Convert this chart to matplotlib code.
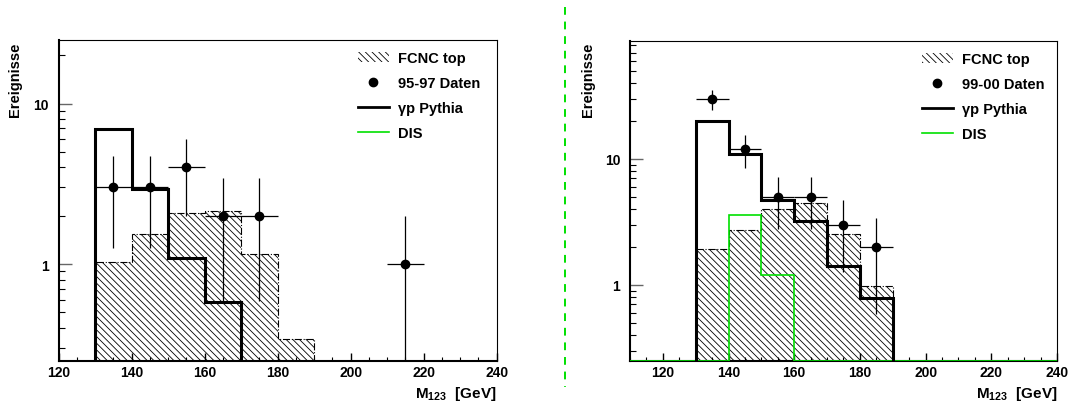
import numpy as np
import matplotlib
matplotlib.use('Agg')
import matplotlib.pyplot as plt
from matplotlib.lines import Line2D
from matplotlib.patches import Patch
from matplotlib.ticker import MultipleLocator, LogLocator, NullFormatter, FixedFormatter, FixedLocator

plt.rcParams['font.family'] = ['Liberation Sans', 'DejaVu Sans']
plt.rcParams['font.weight'] = 'bold'
plt.rcParams['mathtext.fontset'] = 'custom'
plt.rcParams['mathtext.rm'] = 'Liberation Sans:bold'
plt.rcParams['mathtext.bf'] = 'Liberation Sans:bold'
plt.rcParams['hatch.linewidth'] = 0.6

# bin edges (GeV) for the M123 histograms
edges = np.arange(110, 250, 10)
centres = edges[:-1] + 5

# 95-97 sample
fcnc_9597 = np.array([0, 0, 1.03, 1.54, 2.07, 2.13, 1.16, 0.34, 0, 0, 0, 0, 0])
pythia_9597 = np.array([0, 0, 6.92, 2.94, 1.09, 0.58, 0, 0, 0, 0, 0, 0, 0])
data_9597 = np.array([0, 0, 3, 3, 4, 2, 2, 0, 0, 0, 1, 0, 0])

# 99-00 sample
fcnc_9900 = np.array([0, 0, 1.93, 2.73, 3.99, 4.48, 2.54, 0.975, 0, 0, 0, 0, 0])
pythia_9900 = np.array([0, 0, 20.0, 11.0, 4.73, 3.2, 1.42, 0.78, 0, 0, 0, 0, 0])
dis_9900 = np.array([0, 0, 0, 3.61, 1.2, 0, 0, 0, 0, 0, 0, 0, 0])
data_9900 = np.array([0, 0, 30, 12, 5, 5, 3, 2, 0, 0, 0, 0, 0])

HATCH = '\\' * 5
GREEN = '#00e000'


def panel(rect, xlim, ylim, fcnc, pythia, data, dis, datalabel, legx):
    ax = fig.add_axes(rect)
    ax.set_yscale('log')
    floor = ylim[0] * 0.01
    f = np.where(fcnc > 0, fcnc, floor)
    ax.stairs(f, edges, baseline=floor, fill=True, facecolor='none',
              edgecolor='k', hatch=HATCH, linewidth=0)
    ax.stairs(f, edges, baseline=floor, color='k', lw=0.8, ls='-.')
    if dis is not None:
        d = np.where(dis > 0, dis, ylim[0])
        ax.stairs(d, edges, baseline=None, color=GREEN, lw=1.2, zorder=3)
    p = np.where(pythia > 0, pythia, floor)
    ax.stairs(p, edges, baseline=floor, color='k', lw=2.2, zorder=4)

    m = data > 0
    ax.errorbar(centres[m], data[m], xerr=5, yerr=np.sqrt(data[m]),
                fmt='o', color='k', ms=6, elinewidth=0.9, capsize=0, zorder=5)

    ax.set_xlim(*xlim)
    ax.set_ylim(*ylim)
    ax.xaxis.set_major_locator(MultipleLocator(20))
    ax.xaxis.set_minor_locator(MultipleLocator(5))
    ax.yaxis.set_major_locator(FixedLocator([1, 10]))
    ax.yaxis.set_major_formatter(FixedFormatter(['1', '10']))
    ax.yaxis.set_minor_locator(LogLocator(base=10, subs=np.arange(2, 10)))
    ax.yaxis.set_minor_formatter(NullFormatter())
    ax.tick_params(which='both', direction='in', top=False, right=False, labelsize=10)
    ax.tick_params(which='major', axis='y', length=9, width=1, color='0.4', pad=7)
    ax.tick_params(which='minor', axis='y', length=4.5, width=0.8)
    ax.tick_params(which='major', axis='x', length=6, width=1, pad=3)
    ax.tick_params(which='minor', axis='x', length=3, width=0.8)
    for lab in ax.get_xticklabels() + ax.get_yticklabels():
        lab.set_fontweight('bold')
    for s in ['left', 'bottom']:
        ax.spines[s].set_linewidth(1.5)
    for s in ['top', 'right']:
        ax.spines[s].set_linewidth(0.8)

    handles = [Patch(facecolor='none', edgecolor='k', hatch=HATCH, lw=0),
               Line2D([], [], marker='o', ls='none', color='k', ms=6),
               Line2D([], [], color='k', lw=2),
               Line2D([], [], color=GREEN, lw=1.2)]
    labels = ['FCNC top', datalabel, '\u03b3p Pythia', 'DIS']
    ax.legend(handles, labels, loc='upper left', bbox_to_anchor=(legx, 0.965),
              frameon=False, borderaxespad=0, borderpad=0, handlelength=2.1,
              handletextpad=0.65, labelspacing=0.75,
              prop={'size': 10.5, 'weight': 'bold'})
    return ax


fig = plt.figure(figsize=(10.9, 4.02), dpi=100)

ax1 = panel([0.0539, 0.1003, 0.4018, 0.7985], (120, 240), (0.25, 25),
            fcnc_9597, pythia_9597, data_9597, None, '95-97 Daten', 0.683)
ax2 = panel([0.578, 0.1003, 0.3917, 0.796], (110, 240), (0.25, 87),
            fcnc_9900, pythia_9900, data_9900, dis_9900, '99-00 Daten', 0.684)

for x, axr in [(15, 496), (588, 1057)]:
    fig.text(x / 1090, 1 - 43 / 402, 'Ereignisse', rotation=90, ha='center',
             va='top', fontsize=10.5, fontweight='bold')
    fig.text(axr / 1090, 1 - 398 / 402, r'M$_{123}$  [GeV]', ha='right',
             va='baseline', fontsize=11, fontweight='bold')

# divider between the two samples
fig.add_artist(Line2D([565 / 1090, 565 / 1090], [0.98, 0.035], color=GREEN,
                      lw=1.4, ls=(0, (4, 3.5))))

fig.savefig('out.png', dpi=100)
